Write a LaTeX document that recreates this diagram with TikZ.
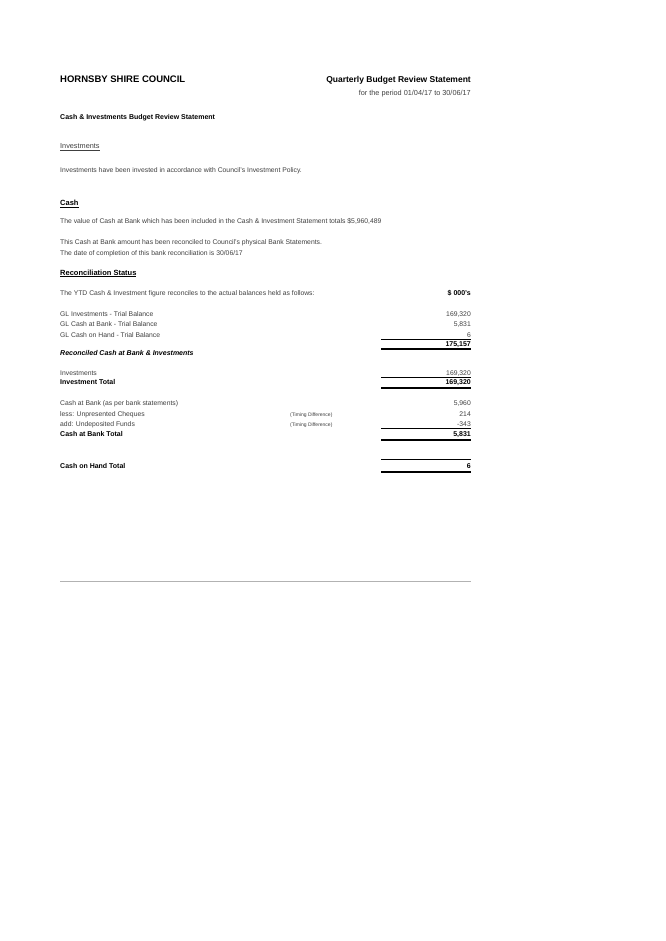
\documentclass[tikz,border=0pt]{standalone}
\usepackage{fontspec}
\setmainfont{Liberation Sans}
\usetikzlibrary{positioning}
\definecolor{ink}{gray}{0.25}
\begin{document}
\begin{tikzpicture}[x=1pt,y=-1pt,
   txt/.style={anchor=base west,inner sep=0pt,text=ink,font=\fontsize{6.8}{8}\selectfont},
   num/.style={anchor=base east,inner sep=0pt,text=ink,font=\fontsize{6.8}{8}\selectfont},
   bld/.style={txt,text=black,font=\fontsize{7}{8}\selectfont\bfseries},
   bnum/.style={num,text=black,font=\fontsize{7}{8}\selectfont\bfseries},
   tiny/.style={txt,font=\fontsize{5}{6}\selectfont},
   thin/.style={draw=black,line width=0.6pt},
   thick/.style={draw=black,line width=1.5pt}]
   \useasboundingbox[fill=white] (0,0) rectangle (665,941);
   % header
   \node[bld,font=\fontsize{9.5}{11}\selectfont\bfseries] (council) at (60,83) {HORNSBY SHIRE COUNCIL};
   \node[bnum,font=\fontsize{8.5}{10}\selectfont\bfseries] (qbrs) at (471,83) {Quarterly Budget Review Statement};
   \node[num,font=\fontsize{7.3}{9}\selectfont] (period) at (471,96) {for the period 01/04/17 to 30/06/17};
   \node[bld] (title) at (60,120) {Cash \& Investments Budget Review Statement};
   % investments
   \node[txt,font=\fontsize{7.3}{9}\selectfont] (invhead) at (60,149) {\underline{Investments}};
   \node[txt] (invtext) at (60,173) {Investments have been invested in accordance with Council's Investment Policy.};
   % cash
   \node[bld,font=\fontsize{7.5}{9}\selectfont\bfseries] (cashhead) at (60,206) {\underline{Cash}};
   \node[txt] (cashtext) at (60,223) {The value of Cash at Bank which has been included in the Cash \& Investment Statement totals \$5,960,489};
   \node[txt] (recon1) at (60,244) {This Cash at Bank amount has been reconciled to Council's physical Bank Statements.};
   \node[txt] (recon2) at (60,255) {The date of completion of this bank reconciliation is 30/06/17};
   % reconciliation
   \node[bld,font=\fontsize{7.5}{9}\selectfont\bfseries] (rechead) at (60,275) {\underline{Reconciliation Status}};
   \node[txt] (ytd) at (60,295) {The YTD Cash \& Investment figure reconciles to the actual balances held as follows:};
   \node[bnum] (units) at (471,295) {\$ 000's};
   \node[txt] (glinv) at (60,316) {GL Investments - Trial Balance};
   \node[num] (glinvv) at (471,316) {169,320};
   \node[txt] (glbank) at (60,326) {GL Cash at Bank - Trial Balance};
   \node[num] (glbankv) at (471,326) {5,831};
   \node[txt] (glhand) at (60,337) {GL Cash on Hand - Trial Balance};
   \node[num] (glhandv) at (471,337) {6};
   \draw[thin] (381,339) -- (471,339);
   \node[bnum] (gltotal) at (471,346) {175,157};
   \draw[thick] (381,349) -- (471,349);
   \node[bld,font=\fontsize{7}{8}\selectfont\bfseries\itshape] (reconciled) at (60,355) {Reconciled Cash at Bank \& Investments};
   \node[txt] (inv) at (60,375) {Investments};
   \node[num] (invv) at (471,375) {169,320};
   \draw[thin] (381,377) -- (471,377);
   \node[bld] (invtot) at (60,384) {Investment Total};
   \node[bnum] (invtotv) at (471,384) {169,320};
   \draw[thick] (381,388) -- (471,388);
   \node[txt] (bank) at (60,405) {Cash at Bank (as per bank statements)};
   \node[num] (bankv) at (471,405) {5,960};
   \node[txt] (less) at (60,416) {less: Unpresented Cheques};
   \node[tiny] (timing1) at (290,416) {(Timing Difference)};
   \node[num] (lessv) at (471,416) {214};
   \node[txt] (add) at (60,426) {add: Undeposited Funds};
   \node[tiny] (timing2) at (290,426) {(Timing Difference)};
   \node[num] (addv) at (471,426) {-343};
   \draw[thin] (381,428) -- (471,428);
   \node[bld] (banktot) at (60,436) {Cash at Bank Total};
   \node[bnum] (banktotv) at (471,436) {5,831};
   \draw[thick] (381,440) -- (471,440);
   \draw[thin] (381,459) -- (471,459);
   \node[bld] (handtot) at (60,468) {Cash on Hand Total};
   \node[bnum] (handtotv) at (471,468) {6};
   \draw[thick] (381,472) -- (471,472);
   % footer rule
   \draw[gray!60,line width=0.6pt] (60,581) -- (471,581);
\end{tikzpicture}
\end{document}
